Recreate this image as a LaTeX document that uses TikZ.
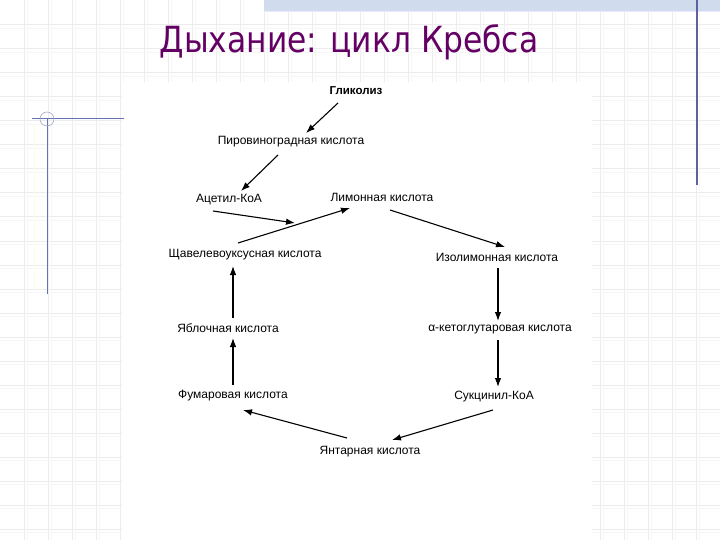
\documentclass[tikz,border=0pt]{standalone}
\usepackage{fontspec}
\setmainfont{Liberation Sans}
\newfontfamily\titlefont[FakeStretch=0.87]{DejaVu Sans}
\usetikzlibrary{calc,arrows.meta}
\definecolor{ttl}{RGB}{100,0,100}
\definecolor{gridc}{RGB}{236,236,236}
\definecolor{gridf}{RGB}{247,247,247}
\definecolor{deco}{RGB}{100,115,175}
\definecolor{band}{RGB}{208,220,238}
\begin{document}
\begin{tikzpicture}[x=1pt,y=-1pt,
  lbl/.style={inner sep=0pt,font=\fontsize{12}{14}\selectfont},
  arr/.style={line width=1.1pt,-{Latex[length=9pt,width=6.5pt]}}]
\useasboundingbox (0,0) rectangle (720,540);
\fill[white] (0,0) rectangle (720,540);
% grid
\foreach \i in {1,...,29} {
  \draw[gridf,line width=0.8pt] (24*\i+3,0) -- (24*\i+3,540);
  \draw[gridc,line width=1pt] (24*\i,0) -- (24*\i,540);
}
\foreach \j in {1,...,22} {
  \draw[gridf,line width=0.8pt] (0,24*\j+4) -- (720,24*\j+4);
  \draw[gridc,line width=1pt] (0,24*\j+1) -- (720,24*\j+1);
}
% white pasted area
\fill[white] (122,82) rectangle (592,540);
% top band
\fill[band] (264,0) rectangle (720,11);
\draw[blue!8,line width=1pt] (264,12) -- (720,12);
\draw[gray!75!blue,line width=1.2pt] (697,0) -- (697,185);
% left decoration
\draw[yellow!12,line width=1pt] (34,125) -- (34,290);
\draw[deco,line width=1pt] (32,119) -- (124,119);
\draw[deco,line width=1pt] (47,119) -- (47,294);
\draw[deco!60,line width=0.6pt] (47,119) circle (7);
% title
\node[text=ttl,inner sep=0pt,font=\titlefont\fontsize{36}{40}\selectfont,anchor=base] (title) at (349,53) {Дыхание: цикл Кребса};
% nodes
\node[lbl,font=\bfseries\fontsize{11.5}{13}\selectfont] (glyc) at (356,91) {Гликолиз};
\node[lbl] (piro) at (291,142) {Пировиноградная кислота};
\node[lbl] (acet) at (229,200) {Ацетил-КоА};
\node[lbl] (cit) at (382,197) {Лимонная кислота};
\node[lbl] (oxal) at (245,255) {Щавелевоуксусная кислота};
\node[lbl] (iso) at (497,257) {Изолимонная кислота};
\node[lbl] (mal) at (228,328) {Яблочная кислота};
\node[lbl] (akg) at (500,330) {α-кетоглутаровая кислота};
\node[lbl] (fum) at (233,396) {Фумаровая кислота};
\node[lbl] (succ) at (494,397) {Сукцинил-КоА};
\node[lbl] (ytt) at (370,452) {Янтарная кислота};
\coordinate (join) at (295,223);
% arrows
\draw[arr] ($(glyc)+(-18,12)$) -- ($(piro)+(15,-9)$);
\draw[arr] ($(piro)+(-13,13)$) -- ($(acet)+(12,-9)$);
\draw[arr] ($(acet)+(-16,11)$) -- (join);
\draw[arr] ($(oxal)+(-7,-12)$) -- ($(cit)+(-32,11)$);
\draw[arr] ($(cit)+(8,13)$) -- ($(iso)+(8,-10)$);
\draw[arr] ($(iso)+(1,11)$) -- ($(akg)+(-2,-9)$);
\draw[arr] ($(akg)+(-2,10)$) -- ($(succ)+(4,-10)$);
\draw[arr] ($(succ)+(-1,13)$) -- ($(ytt)+(22,-12)$);
\draw[arr] ($(ytt)+(-23,-14)$) -- ($(fum)+(10,14)$);
\draw[arr] ($(fum)+(0,-11)$) -- ($(mal)+(5,10)$);
\draw[arr] ($(mal)+(5,-10)$) -- ($(oxal)+(-12,11)$);
\end{tikzpicture}
\end{document}
